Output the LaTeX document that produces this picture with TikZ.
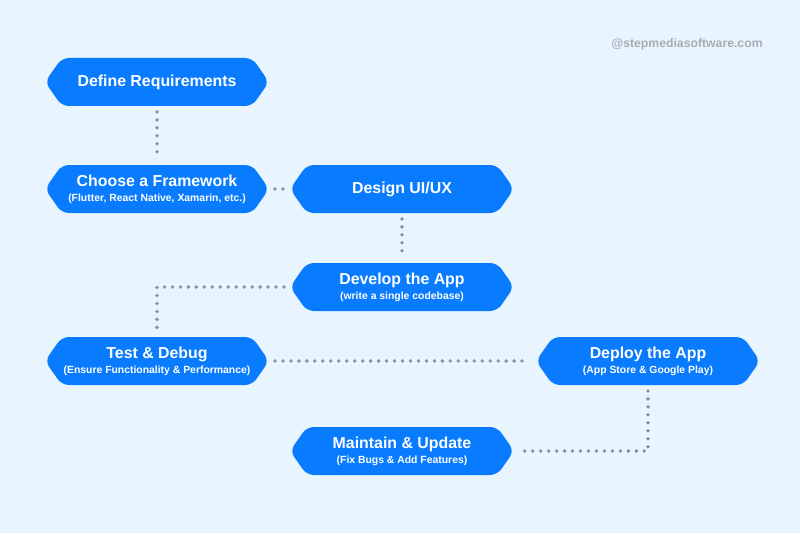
\documentclass[tikz,border=0pt]{standalone}
\usepackage{fontspec}
\setmainfont{Liberation Sans}
\usetikzlibrary{shapes.symbols}

\definecolor{bgblue}{RGB}{233,245,254}
\definecolor{stepblue}{RGB}{8,123,255}
\definecolor{dotgray}{RGB}{140,145,152}
\definecolor{markgray}{RGB}{165,172,180}

\newcommand{\subline}[1]{\\[-1.5pt]{\fontsize{7.4}{8}\selectfont #1}}

\begin{document}
\begin{tikzpicture} [
    auto,
      block/.style    = { signal, signal to=east and west, signal pointer angle=110,
                        fill=stepblue, text=white, align=center, inner sep=0pt,
                        rounded corners=5pt, minimum width=5.6cm, minimum height=1.2cm,
                        font=\bfseries\fontsize{11.3}{12}\selectfont },
    line/.style     = { draw=dotgray, line width=2.7pt, line cap=round,
                        dash pattern=on 0pt off 5.67pt, shorten >=4pt, shorten <=4pt },
    node distance=2.675cm,
  ]
\fill[bgblue] (0,0) rectangle (20,13.325);
\useasboundingbox (0,0) rectangle (20,13.325);

\node (mark) at (17.175,12.225) [text=markgray, font=\bfseries\fontsize{8.7}{10}\selectfont]{@stepmediasoftware.com};

\node (req) at (3.925,11.275) [block]{Define Requirements};
\node (frame) [block,below of = req]{Choose a Framework\subline{(Flutter, React Native, Xamarin, etc.)}};
\node (design) [block,right of = frame,node distance=6.125cm]{Design UI/UX};
\node (dev) [block,below of = design,node distance=2.45cm]{Develop the App\subline{(write a single codebase)}};
\node (test) [block,below of = frame,node distance=4.3cm]{Test \& Debug\subline{(Ensure Functionality \& Performance)}};
\node (deploy) [block,right of = test,node distance=12.275cm]{Deploy the App\subline{(App Store \& Google Play)}};
\node (maint) [block,below of = dev,node distance=4.1cm]{Maintain \& Update\subline{(Fix Bugs \& Add Features)}};

\begin{scope}[every path/.style=line]
\path (req) -- (frame);
\path (frame) -- (design);
\path (design) -- (dev);
\path (dev.west) -| (test.north);
\path (test) -- (deploy);
\path (deploy.south) |- (maint.east);
\end{scope}

\end{tikzpicture}
\end{document}
